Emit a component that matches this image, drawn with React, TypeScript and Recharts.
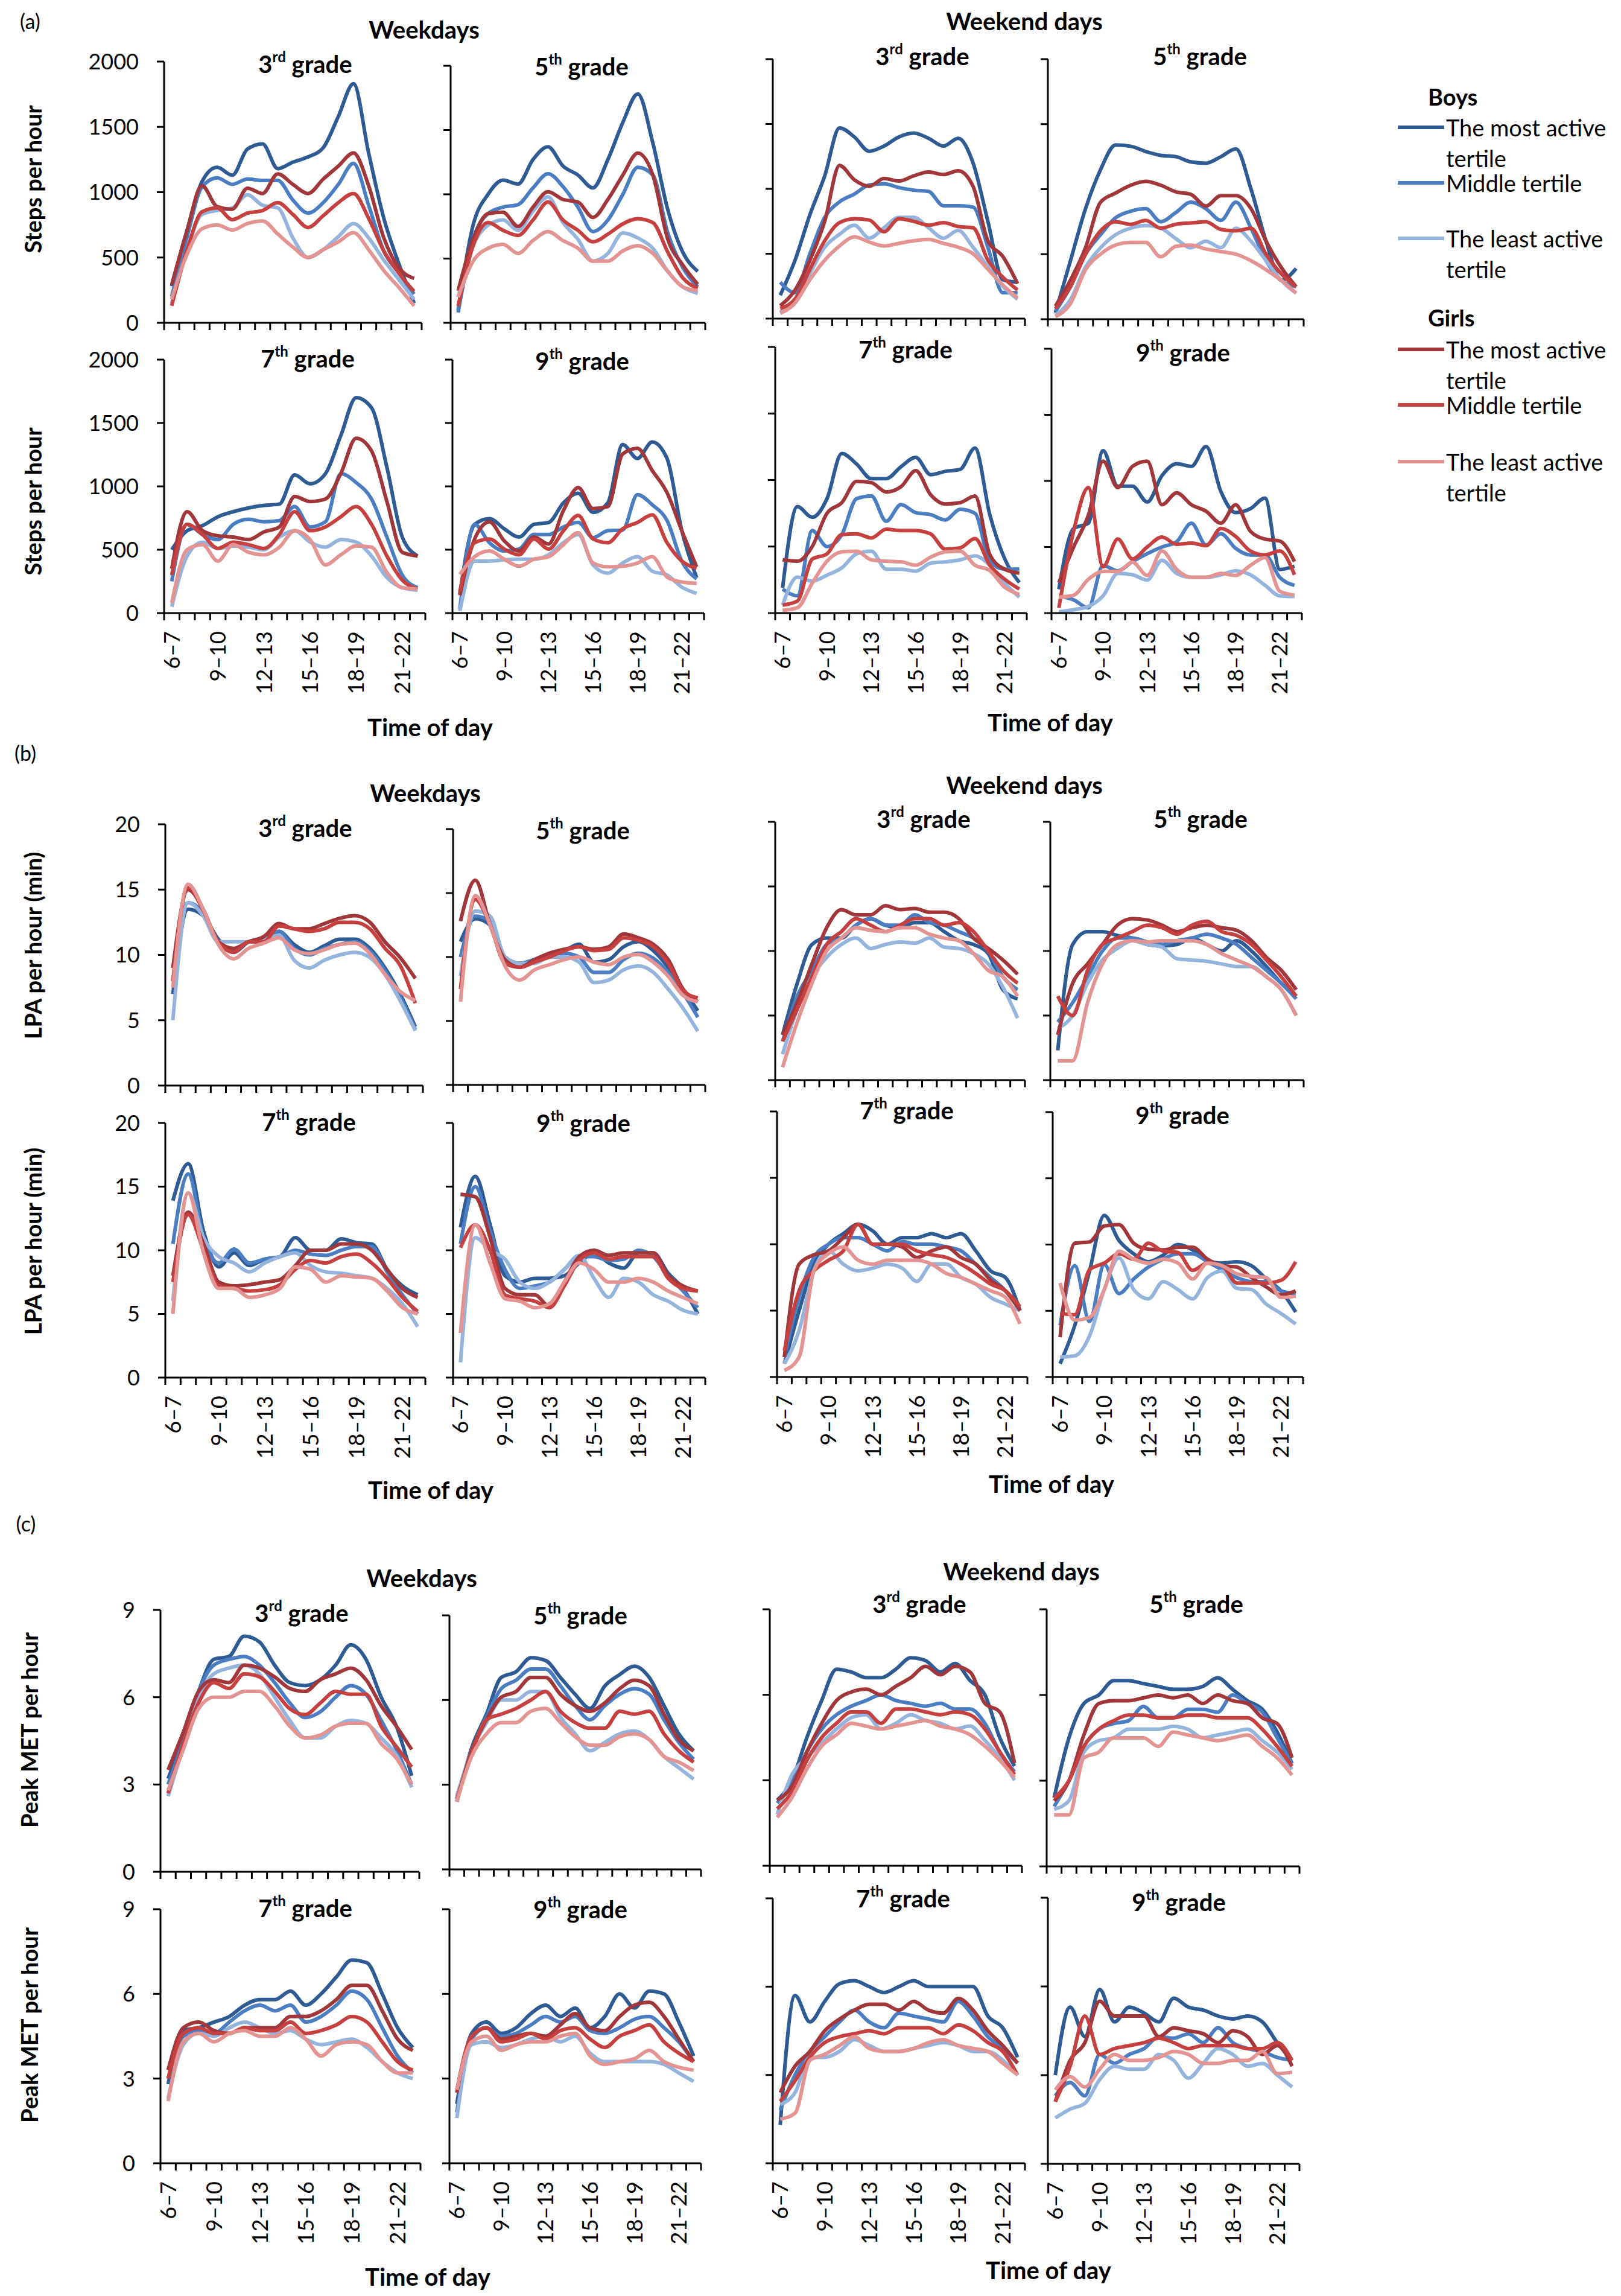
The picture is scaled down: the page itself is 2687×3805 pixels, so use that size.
import React from 'react';
import { LineChart, Line, XAxis, YAxis } from 'recharts';

// hour bins on the x axis
const HOURS = ['6–7', '7–8', '8–9', '9–10', '10–11', '11–12', '12–13', '13–14', '14–15', '15–16', '16–17', '17–18', '18–19', '19–20', '20–21', '21–22', '22–23'];

// order in every block: boys most, boys middle, boys least, girls most, girls middle, girls least
const COLORS = ['#2F5B94', '#4A7DC1', '#95B4DD', '#A1373A', '#C5403F', '#E39492'];
const TERTILES = ['The most active tertile', 'Middle tertile', 'The least active tertile'];

const STEP_TICKS = [0, 500, 1000, 1500, 2000];
const LPA_TICKS = [0, 5, 10, 15, 20];
const MET_TICKS = [0, 3, 6, 9];

// (a) steps per hour
const stepsWd3 = [
  [280, 700, 1080, 1190, 1130, 1330, 1370, 1180, 1230, 1270, 1340, 1580, 1830, 1300, 800, 450, 150],
  [200, 650, 1040, 1110, 1060, 1100, 1090, 1090, 940, 840, 920, 1060, 1220, 900, 550, 380, 220],
  [150, 550, 830, 860, 880, 980, 900, 880, 650, 500, 560, 660, 760, 650, 480, 330, 180],
  [290, 700, 1050, 890, 870, 1030, 990, 1140, 1060, 990, 1100, 1200, 1300, 1050, 650, 420, 340],
  [130, 550, 850, 880, 790, 840, 860, 920, 830, 730, 820, 920, 990, 800, 550, 380, 240],
  [180, 520, 720, 750, 710, 760, 780, 680, 580, 500, 560, 620, 690, 560, 400, 270, 130],
];
const stepsWd5 = [
  [100, 760, 1000, 1110, 1080, 1270, 1370, 1220, 1150, 1050, 1270, 1560, 1780, 1400, 880, 550, 400],
  [80, 650, 850, 900, 920, 1050, 1160, 1060, 900, 710, 800, 1000, 1210, 1150, 700, 430, 280],
  [200, 600, 760, 800, 720, 870, 980, 780, 650, 480, 540, 700, 660, 580, 400, 280, 230],
  [250, 650, 850, 860, 750, 900, 1020, 960, 940, 820, 960, 1150, 1320, 1150, 650, 450, 300],
  [130, 600, 780, 720, 680, 800, 940, 800, 720, 630, 690, 770, 810, 780, 550, 350, 270],
  [200, 480, 580, 610, 540, 640, 710, 640, 580, 480, 480, 560, 600, 540, 400, 280, 250],
];
const stepsWd7 = [
  [500, 650, 690, 760, 800, 830, 850, 860, 1090, 1020, 1100, 1400, 1700, 1620, 1150, 600, 450],
  [250, 700, 620, 580, 700, 740, 720, 730, 840, 680, 720, 1100, 1030, 900, 600, 300, 200],
  [50, 450, 560, 510, 530, 520, 500, 600, 650, 560, 520, 580, 560, 450, 280, 200, 180],
  [350, 800, 650, 610, 600, 580, 640, 680, 920, 880, 900, 1100, 1380, 1280, 880, 480, 450],
  [300, 700, 620, 510, 560, 540, 510, 620, 800, 650, 680, 760, 840, 700, 450, 260, 190],
  [80, 500, 540, 410, 540, 480, 460, 520, 650, 580, 380, 460, 530, 520, 320, 200, 190],
];
const stepsWd9 = [
  [150, 700, 745, 665, 600, 700, 715, 870, 945, 795, 870, 1330, 1220, 1350, 1220, 650, 280],
  [30, 700, 555, 490, 505, 620, 620, 680, 715, 595, 650, 655, 935, 855, 730, 410, 270],
  [15, 410, 410, 420, 425, 425, 460, 555, 620, 380, 315, 395, 445, 330, 300, 205, 155],
  [140, 585, 720, 570, 490, 600, 545, 810, 990, 825, 840, 1255, 1300, 1125, 950, 650, 365],
  [170, 555, 585, 505, 460, 585, 505, 650, 770, 585, 555, 665, 715, 775, 555, 410, 355],
  [305, 445, 490, 425, 370, 425, 445, 540, 635, 395, 365, 370, 395, 445, 285, 245, 235],
];
const stepsWe3 = [
  [180, 450, 800, 1100, 1470, 1400, 1290, 1330, 1400, 1430, 1390, 1330, 1390, 1200, 750, 300, 280],
  [280, 200, 500, 780, 900, 960, 1030, 1040, 1010, 990, 980, 870, 870, 860, 550, 200, 200],
  [50, 150, 350, 550, 650, 720, 620, 700, 780, 780, 700, 620, 680, 550, 400, 250, 150],
  [100, 220, 450, 750, 1180, 1070, 1020, 1080, 1060, 1100, 1130, 1110, 1140, 1020, 600, 480, 270],
  [80, 150, 380, 600, 740, 770, 760, 670, 770, 750, 720, 740, 710, 700, 450, 320, 220],
  [40, 120, 300, 450, 560, 630, 590, 560, 580, 600, 610, 580, 550, 500, 380, 260, 160],
];
const stepsWe5 = [
  [50, 450, 850, 1150, 1340, 1330, 1290, 1260, 1250, 1210, 1200, 1250, 1310, 1000, 600, 300, 390],
  [60, 250, 500, 650, 780, 830, 850, 750, 820, 900, 850, 760, 900, 700, 450, 300, 250],
  [30, 150, 400, 550, 650, 700, 720, 700, 620, 550, 600, 550, 700, 600, 450, 300, 200],
  [100, 300, 550, 900, 970, 1030, 1060, 1030, 980, 960, 870, 950, 950, 850, 600, 400, 250],
  [80, 250, 500, 680, 750, 730, 760, 700, 730, 740, 750, 690, 680, 700, 500, 350, 250],
  [20, 120, 380, 500, 570, 590, 590, 480, 560, 570, 540, 520, 500, 450, 380, 300, 200],
];
const stepsWe7 = [
  [190, 800, 720, 860, 1200, 1120, 1010, 1010, 1100, 1170, 1040, 1065, 1080, 1240, 740, 410, 230],
  [180, 130, 620, 500, 590, 860, 880, 690, 815, 755, 740, 700, 780, 750, 390, 330, 330],
  [60, 270, 240, 285, 340, 445, 465, 330, 330, 315, 375, 385, 400, 430, 360, 225, 120],
  [400, 390, 500, 750, 830, 990, 980, 910, 950, 1070, 890, 820, 830, 880, 440, 330, 300],
  [60, 90, 405, 445, 590, 595, 565, 630, 620, 620, 595, 480, 490, 560, 360, 255, 180],
  [20, 40, 225, 390, 460, 465, 400, 390, 385, 360, 420, 460, 465, 360, 320, 195, 140],
];
const stepsWe9 = [
  [180, 640, 680, 1230, 960, 960, 840, 1040, 1130, 1110, 1260, 920, 760, 790, 870, 330, 355],
  [130, 100, 40, 360, 320, 390, 450, 500, 540, 680, 515, 600, 490, 440, 440, 270, 210],
  [10, 25, 50, 130, 300, 290, 250, 400, 300, 270, 270, 290, 320, 290, 210, 130, 125],
  [230, 500, 740, 1150, 950, 1110, 1150, 820, 910, 820, 770, 680, 820, 620, 560, 545, 390],
  [40, 620, 950, 350, 560, 410, 500, 575, 520, 530, 510, 640, 580, 470, 440, 470, 290],
  [120, 135, 255, 315, 315, 385, 285, 470, 330, 270, 270, 300, 285, 360, 420, 165, 135],
];

// (b) LPA minutes per hour
const lpaWd3 = [
  [7.0, 13.5, 13.0, 11.2, 10.2, 11.0, 11.3, 11.8, 10.8, 10.2, 10.7, 11.2, 11.2, 10.5, 9.0, 7.0, 4.5],
  [8.0, 14.0, 13.2, 11.0, 10.4, 11.0, 11.0, 11.8, 10.5, 10.0, 10.5, 10.8, 11.0, 10.3, 8.8, 6.8, 4.3],
  [5.0, 14.0, 13.0, 11.0, 11.0, 11.0, 11.2, 11.5, 9.6, 9.0, 9.6, 10.0, 10.2, 9.8, 8.5, 6.5, 4.2],
  [9.0, 15.0, 13.5, 11.0, 10.5, 11.0, 11.4, 12.4, 12.0, 12.0, 12.4, 12.8, 13.0, 12.5, 11.0, 9.8, 8.2],
  [8.0, 15.2, 13.4, 11.0, 10.2, 11.0, 11.0, 12.2, 12.0, 11.8, 12.0, 12.5, 12.5, 12.0, 10.5, 9.2, 6.3],
  [7.5, 15.4, 13.5, 10.8, 9.7, 10.5, 10.9, 11.3, 10.4, 10.1, 10.4, 10.8, 10.9, 10.1, 8.5, 7.2, 6.5],
];
const lpaWd5 = [
  [11.2, 13.0, 12.5, 10.0, 9.5, 9.8, 10.2, 10.5, 11.0, 9.6, 9.8, 10.8, 11.2, 10.5, 9.2, 7.5, 5.8],
  [10.0, 13.2, 12.8, 10.0, 9.5, 9.8, 10.2, 10.3, 10.0, 8.8, 8.8, 9.8, 10.3, 9.9, 8.8, 7.2, 5.3],
  [8.5, 13.6, 13.2, 10.0, 9.5, 9.5, 10.0, 10.0, 9.6, 8.0, 8.2, 9.0, 9.3, 8.8, 7.5, 6.0, 4.2],
  [12.8, 16.0, 12.5, 9.8, 9.2, 9.8, 10.3, 10.6, 10.8, 10.6, 10.8, 11.8, 11.5, 11.0, 9.8, 7.5, 6.5],
  [7.5, 14.5, 12.5, 9.5, 9.2, 9.6, 10.0, 10.5, 10.8, 10.5, 10.6, 11.5, 11.3, 10.8, 9.5, 7.4, 6.8],
  [6.5, 14.8, 12.5, 9.3, 8.2, 9.0, 9.4, 9.8, 10.0, 9.6, 9.4, 10.0, 10.2, 9.6, 8.5, 7.0, 6.5],
];
const lpaWd7 = [
  [13.9, 16.8, 11.5, 8.7, 9.8, 8.8, 9.3, 9.5, 11.0, 10.0, 10.0, 10.9, 10.6, 10.5, 8.5, 7.2, 6.5],
  [10.5, 16.0, 11.0, 9.0, 10.1, 9.0, 9.3, 9.5, 10.0, 9.7, 9.6, 10.0, 10.3, 10.3, 8.3, 6.5, 5.0],
  [6.0, 14.5, 11.0, 9.5, 9.0, 8.3, 9.0, 9.5, 9.8, 8.8, 8.3, 8.2, 8.0, 7.8, 7.0, 5.8, 4.0],
  [8.0, 13.0, 10.5, 7.5, 7.2, 7.3, 7.5, 7.7, 8.8, 10.0, 10.0, 10.5, 10.5, 10.0, 8.5, 7.0, 6.3],
  [7.5, 12.8, 10.0, 7.2, 7.0, 6.8, 6.9, 7.3, 8.5, 9.2, 9.0, 9.5, 9.7, 9.0, 7.8, 6.3, 5.2],
  [5.0, 14.5, 9.8, 7.0, 7.0, 6.3, 6.5, 7.0, 8.7, 8.5, 7.5, 8.0, 7.9, 7.8, 6.8, 5.5, 5.0],
];
const lpaWd9 = [
  [11.8, 15.8, 12.0, 8.0, 7.5, 7.8, 7.8, 8.0, 9.0, 9.8, 9.0, 8.6, 9.8, 9.8, 8.2, 7.0, 5.0],
  [10.5, 15.0, 11.5, 8.5, 7.0, 7.2, 7.5, 8.5, 9.5, 9.5, 9.2, 9.3, 10.0, 9.5, 8.0, 6.8, 5.5],
  [1.2, 11.0, 10.0, 9.3, 7.5, 7.0, 7.5, 8.5, 9.6, 7.8, 6.3, 7.8, 7.5, 6.5, 6.0, 5.3, 5.0],
  [14.4, 14.2, 11.0, 7.0, 6.5, 6.5, 5.6, 7.5, 9.5, 10.0, 9.6, 9.8, 9.8, 9.8, 8.0, 7.2, 6.8],
  [10.2, 12.0, 10.0, 6.5, 6.2, 6.0, 5.5, 7.2, 9.2, 9.8, 9.3, 9.5, 9.5, 9.5, 7.8, 7.0, 6.8],
  [3.5, 12.0, 9.0, 6.2, 6.0, 5.5, 5.8, 7.5, 9.0, 8.5, 7.5, 7.5, 7.8, 7.5, 6.8, 6.3, 5.8],
];
const lpaWe3 = [
  [3.5, 7.5, 10.5, 11.0, 11.0, 12.0, 12.5, 12.0, 11.8, 12.2, 12.2, 11.5, 10.8, 10.5, 9.8, 7.0, 6.3],
  [3.0, 6.5, 8.5, 10.5, 11.0, 12.0, 12.5, 12.0, 12.0, 12.8, 12.2, 12.0, 11.5, 11.0, 10.0, 8.0, 7.0],
  [2.0, 5.5, 8.0, 9.5, 10.5, 11.0, 10.2, 10.5, 10.7, 10.6, 11.0, 10.3, 10.2, 9.8, 9.0, 7.2, 4.8],
  [3.5, 6.0, 9.0, 11.8, 13.2, 12.8, 12.8, 13.5, 13.2, 13.3, 13.0, 13.0, 12.5, 11.0, 10.2, 9.3, 8.2],
  [3.0, 5.5, 8.0, 10.5, 11.5, 12.5, 12.0, 11.5, 12.0, 12.5, 12.5, 12.0, 12.2, 11.5, 10.0, 8.5, 7.5],
  [1.0, 4.5, 7.5, 10.0, 11.0, 11.8, 11.6, 11.5, 11.8, 11.8, 11.3, 11.0, 10.8, 9.8, 8.5, 8.0, 6.5],
];
const lpaWe5 = [
  [2.3, 10.5, 11.5, 11.5, 11.2, 11.0, 10.5, 10.4, 10.5, 11.0, 10.5, 10.0, 10.8, 10.0, 8.8, 7.5, 6.5],
  [4.5, 6.0, 8.0, 10.0, 11.0, 11.0, 10.7, 10.5, 10.8, 11.0, 11.3, 11.0, 10.5, 9.5, 8.5, 7.5, 6.3],
  [4.0, 5.0, 7.5, 9.3, 10.2, 10.8, 10.5, 10.3, 9.4, 9.3, 9.2, 9.0, 8.8, 8.8, 8.0, 7.0, 5.0],
  [3.5, 7.5, 9.0, 10.5, 12.0, 12.5, 12.4, 12.0, 11.5, 11.8, 12.0, 11.8, 11.6, 10.8, 9.5, 8.5, 7.0],
  [6.5, 5.0, 8.5, 10.5, 11.0, 11.5, 12.0, 11.8, 11.3, 12.0, 12.3, 11.5, 11.2, 10.5, 9.3, 8.0, 6.5],
  [1.5, 1.5, 6.0, 9.0, 10.5, 10.8, 10.7, 10.8, 10.8, 10.8, 10.5, 9.8, 9.3, 8.8, 8.0, 7.0, 5.0],
];
const lpaWe7 = [
  [1.0, 5.0, 8.5, 10.0, 10.8, 11.5, 11.0, 10.0, 10.5, 10.5, 10.8, 10.5, 10.8, 9.5, 8.0, 7.5, 5.0],
  [1.5, 6.0, 9.0, 10.0, 10.5, 10.5, 10.0, 9.5, 10.2, 10.0, 10.0, 9.8, 9.5, 8.5, 7.5, 6.5, 5.0],
  [1.0, 3.5, 8.0, 9.5, 8.5, 8.0, 8.2, 8.5, 8.2, 7.2, 8.5, 8.5, 7.5, 7.0, 6.0, 5.5, 5.0],
  [1.5, 8.5, 9.2, 9.5, 10.5, 11.5, 10.0, 10.0, 9.8, 9.0, 9.5, 9.8, 9.0, 8.5, 7.3, 6.5, 5.0],
  [2.0, 6.5, 8.0, 8.8, 9.5, 11.5, 10.0, 10.0, 10.0, 9.5, 9.2, 9.0, 8.5, 7.8, 7.0, 6.5, 5.3],
  [0.5, 1.5, 8.0, 9.3, 9.8, 8.8, 8.5, 8.8, 8.8, 8.8, 8.5, 7.8, 7.5, 7.0, 6.5, 6.0, 4.0],
];
const lpaWe9 = [
  [1.0, 3.9, 8.0, 12.2, 10.3, 9.3, 8.7, 9.2, 10.0, 9.6, 8.8, 8.6, 8.7, 8.4, 7.4, 6.5, 4.9],
  [3.9, 8.4, 4.2, 8.5, 6.3, 7.4, 8.3, 8.9, 9.3, 9.3, 8.7, 8.1, 7.5, 7.2, 7.2, 6.5, 6.3],
  [1.5, 1.6, 3.1, 6.6, 9.0, 6.6, 5.9, 7.2, 6.6, 5.9, 7.5, 8.0, 6.7, 6.6, 5.5, 4.8, 4.0],
  [3.0, 10.1, 10.2, 11.4, 11.5, 10.1, 9.65, 9.6, 9.8, 9.8, 8.9, 8.4, 8.3, 7.5, 6.8, 6.2, 6.5],
  [4.8, 4.7, 8.1, 8.6, 9.3, 8.9, 10.1, 9.5, 9.4, 8.05, 8.6, 8.4, 7.1, 7.1, 7.1, 7.3, 8.7],
  [7.1, 4.3, 4.5, 6.6, 9.5, 8.9, 8.6, 8.9, 8.6, 7.4, 8.6, 8.4, 7.8, 7.6, 7.5, 6.0, 6.1],
];

// (c) peak MET per hour
const metWd3 = [
  [3.2, 4.6, 6.2, 7.3, 7.4, 8.1, 7.9, 7.1, 6.5, 6.4, 6.6, 7.1, 7.8, 7.3, 6.0, 5.0, 3.3],
  [3.0, 4.5, 6.2, 7.1, 7.3, 7.4, 7.1, 6.5, 5.8, 5.3, 5.5, 6.0, 6.4, 6.1, 5.2, 4.2, 3.0],
  [2.6, 4.3, 6.0, 6.8, 7.0, 7.1, 6.8, 6.0, 5.2, 4.6, 4.6, 5.0, 5.2, 5.1, 4.6, 4.0, 2.9],
  [3.5, 4.8, 6.2, 6.6, 6.5, 7.1, 7.0, 6.7, 6.3, 6.2, 6.6, 6.8, 7.0, 6.6, 5.7, 5.0, 4.2],
  [2.7, 4.4, 5.8, 6.5, 6.3, 6.8, 6.7, 6.2, 5.6, 5.4, 5.8, 6.2, 6.1, 6.1, 5.0, 4.3, 3.6],
  [2.8, 4.2, 5.6, 6.0, 6.0, 6.2, 6.2, 5.7, 5.0, 4.6, 4.7, 5.0, 5.1, 5.1, 4.4, 3.9, 3.0],
];
const metWd5 = [
  [2.4, 4.3, 5.5, 6.8, 7.0, 7.5, 7.4, 6.8, 6.2, 5.7, 6.5, 6.9, 7.2, 6.8, 5.8, 4.8, 4.2],
  [2.5, 4.2, 5.4, 6.4, 6.7, 7.1, 7.1, 6.5, 5.8, 5.3, 5.8, 6.2, 6.4, 6.2, 5.3, 4.5, 3.9],
  [2.6, 4.2, 5.2, 6.0, 6.0, 6.3, 6.3, 5.4, 4.8, 4.2, 4.5, 4.8, 4.9, 4.6, 4.0, 3.6, 3.2],
  [2.4, 4.2, 5.3, 6.1, 6.3, 6.8, 6.8, 6.2, 5.8, 5.6, 5.9, 6.4, 6.7, 6.5, 5.5, 4.6, 4.2],
  [2.5, 4.1, 5.3, 5.5, 5.7, 6.0, 6.3, 5.6, 5.2, 5.0, 5.0, 5.6, 5.5, 5.6, 4.8, 4.2, 3.8],
  [2.4, 4.0, 4.8, 5.2, 5.2, 5.6, 5.7, 5.2, 4.7, 4.4, 4.4, 4.7, 4.8, 4.6, 4.0, 3.8, 3.5],
];
const metWd7 = [
  [2.8, 4.7, 4.8, 5.0, 5.2, 5.6, 5.8, 5.8, 6.1, 5.6, 6.0, 6.6, 7.2, 7.1, 6.0, 4.8, 4.1],
  [3.0, 4.5, 4.7, 4.6, 5.0, 5.4, 5.6, 5.4, 5.6, 5.0, 5.2, 5.6, 6.1, 5.8, 4.8, 3.8, 3.2],
  [2.3, 4.2, 4.6, 4.5, 4.8, 5.0, 4.8, 4.6, 4.7, 4.4, 4.2, 4.3, 4.4, 4.1, 3.6, 3.2, 3.0],
  [3.3, 4.8, 5.0, 4.7, 4.6, 4.8, 4.8, 4.8, 5.2, 5.2, 5.4, 5.8, 6.3, 6.3, 5.4, 4.4, 4.0],
  [3.0, 4.6, 4.8, 4.6, 4.6, 4.8, 4.7, 4.7, 5.0, 4.6, 4.7, 4.9, 5.2, 5.0, 4.3, 3.6, 3.3],
  [2.2, 4.3, 4.6, 4.3, 4.6, 4.7, 4.5, 4.5, 4.8, 4.4, 3.8, 4.2, 4.3, 4.2, 3.6, 3.2, 3.2],
];
const metWd9 = [
  [2.1, 4.6, 5.0, 4.6, 4.8, 5.3, 5.6, 5.2, 5.5, 4.8, 5.2, 6.0, 5.5, 6.1, 6.0, 5.0, 3.8],
  [1.8, 4.4, 4.8, 4.5, 4.6, 4.9, 5.2, 5.0, 5.2, 4.7, 4.6, 4.8, 5.1, 5.2, 4.8, 4.3, 3.6],
  [1.6, 4.2, 4.3, 4.1, 4.2, 4.4, 4.5, 4.3, 4.5, 3.9, 3.6, 3.6, 3.6, 3.6, 3.5, 3.2, 2.9],
  [2.5, 4.5, 4.8, 4.4, 4.5, 4.6, 4.5, 4.9, 5.3, 4.8, 4.7, 5.2, 5.6, 5.7, 5.2, 4.4, 3.6],
  [2.6, 4.5, 4.8, 4.3, 4.4, 4.6, 4.4, 4.7, 4.8, 4.4, 4.1, 4.5, 4.7, 4.9, 4.3, 3.9, 3.6],
  [2.6, 4.3, 4.5, 4.0, 4.2, 4.3, 4.3, 4.5, 4.6, 3.8, 3.5, 3.6, 3.7, 4.0, 3.6, 3.4, 3.3],
];
const metWe3 = [
  [2.3, 3.0, 4.5, 5.8, 6.9, 6.8, 6.6, 6.6, 6.9, 7.3, 7.2, 6.8, 7.1, 6.5, 6.0, 4.5, 3.5],
  [2.2, 2.9, 4.0, 4.8, 5.3, 5.6, 5.8, 6.0, 5.8, 5.7, 5.6, 5.7, 5.5, 5.5, 5.0, 4.0, 3.3],
  [1.8, 3.2, 3.8, 4.3, 4.8, 5.2, 5.3, 4.8, 5.0, 5.3, 5.1, 5.0, 4.8, 4.9, 4.4, 3.8, 3.0],
  [2.3, 2.8, 4.0, 5.0, 5.8, 6.1, 6.2, 6.0, 6.3, 6.6, 7.0, 6.7, 7.0, 6.8, 5.7, 5.4, 3.6],
  [2.0, 2.6, 3.7, 4.5, 5.0, 5.4, 5.4, 5.0, 5.5, 5.5, 5.4, 5.3, 5.4, 5.3, 4.8, 4.0, 3.2],
  [1.7, 2.4, 3.4, 4.2, 4.6, 5.0, 4.9, 4.8, 4.9, 5.0, 5.1, 4.9, 4.8, 4.6, 4.2, 3.7, 3.1],
];
const metWe5 = [
  [2.4, 4.5, 5.7, 6.0, 6.5, 6.5, 6.4, 6.3, 6.2, 6.2, 6.3, 6.6, 6.2, 5.8, 5.5, 4.7, 3.6],
  [2.1, 3.0, 4.2, 4.8, 5.0, 5.1, 5.6, 5.2, 5.2, 5.5, 5.5, 5.4, 6.0, 5.7, 5.4, 4.5, 3.6],
  [2.0, 2.3, 4.0, 4.4, 4.5, 4.8, 4.8, 4.8, 4.9, 4.8, 4.5, 4.6, 4.7, 4.8, 4.4, 4.0, 3.4],
  [2.3, 3.0, 4.6, 5.7, 5.8, 5.8, 5.9, 6.0, 5.9, 6.0, 5.7, 6.0, 5.8, 5.7, 5.2, 5.0, 3.8],
  [2.4, 3.0, 4.2, 4.8, 5.1, 5.3, 5.3, 5.2, 5.2, 5.3, 5.3, 5.2, 5.2, 5.2, 4.8, 4.2, 3.5],
  [1.8, 1.8, 3.8, 4.0, 4.5, 4.5, 4.5, 4.2, 4.7, 4.6, 4.5, 4.4, 4.5, 4.6, 4.2, 3.8, 3.2],
];
const metWe7 = [
  [1.3, 5.7, 4.8, 5.5, 6.1, 6.2, 6.0, 5.8, 6.0, 6.2, 6.0, 6.0, 6.0, 6.0, 5.0, 4.6, 3.6],
  [1.8, 3.0, 3.8, 4.3, 4.8, 5.2, 4.8, 4.6, 5.1, 5.0, 4.9, 4.8, 5.5, 5.0, 4.3, 3.9, 3.4],
  [2.0, 2.4, 3.6, 3.6, 3.8, 4.2, 4.0, 3.8, 3.8, 3.9, 4.0, 4.1, 4.0, 3.8, 3.8, 3.5, 3.0],
  [2.4, 3.3, 3.8, 4.5, 4.9, 5.2, 5.4, 5.4, 5.2, 5.5, 5.2, 5.1, 5.6, 5.2, 4.5, 4.0, 3.4],
  [2.1, 2.8, 3.6, 4.1, 4.3, 4.4, 4.5, 4.4, 4.6, 4.6, 4.6, 4.4, 4.7, 4.5, 4.1, 3.8, 3.0],
  [1.5, 1.7, 3.5, 3.7, 4.0, 4.3, 3.9, 3.8, 3.8, 3.9, 4.1, 4.2, 4.0, 3.9, 3.8, 3.4, 3.0],
];
const metWe9 = [
  [3.0, 5.3, 4.3, 5.9, 4.8, 5.3, 5.1, 4.8, 5.6, 5.3, 5.2, 5.0, 4.9, 5.0, 4.8, 4.1, 3.5],
  [2.3, 2.75, 2.3, 3.7, 3.4, 3.7, 3.9, 4.3, 4.25, 4.4, 4.1, 4.6, 4.1, 3.9, 3.8, 3.6, 3.5],
  [1.55, 1.85, 2.05, 2.85, 3.3, 3.2, 3.2, 3.7, 3.5, 2.9, 3.4, 3.9, 3.7, 3.3, 3.4, 3.0, 2.6],
  [2.1, 3.5, 4.1, 5.5, 5.0, 5.0, 5.0, 4.3, 4.6, 4.5, 4.4, 4.1, 4.5, 4.3, 3.7, 4.0, 3.3],
  [2.1, 3.3, 5.0, 3.7, 3.9, 4.0, 4.1, 4.25, 4.1, 3.9, 4.0, 4.0, 4.0, 3.9, 3.9, 4.1, 3.5],
  [2.5, 2.95, 2.6, 3.2, 3.7, 3.5, 3.5, 3.6, 3.8, 3.7, 3.4, 3.4, 3.5, 3.5, 3.8, 3.05, 3.1],
];

const FONT = 'Lato, "Open Sans", sans-serif';
const Y_W = 150;
const X_H = 160;
const M_T = 30;
const M_R = 20;

// tick marks sit between the hour bins, labels on every third bin
const X_TICKS = HOURS.flatMap((_, i) => [i - 0.5, i]).concat([HOURS.length - 0.5]);

type Rect = { l: number; t: number; r: number; b: number };

const XTick = (props: any) => {
  const { x, y, payload, show } = props;
  const v = payload.value as number;
  if (!Number.isInteger(v)) {
    return <line x1={x} x2={x} y1={y} y2={y + 12} stroke="#000" strokeWidth={3} />;
  }
  if (!show || v % 3 !== 0) return <g />;
  const ty = y + 30;
  return (
    <text x={x} y={ty} dy="0.36em" textAnchor="end" transform={`rotate(-90 ${x} ${ty})`}
      fontSize={36} fontFamily={FONT} fill="#000">
      {HOURS[v]}
    </text>
  );
};

const YTick = (props: any) => {
  const { x, y, payload, show } = props;
  if (!show) return <g />;
  return (
    <text x={x} y={y} dy="0.36em" textAnchor="end" fontSize={36} fontFamily={FONT} fill="#000">
      {payload.value}
    </text>
  );
};

function Subplot({ rect, values, ticks, showY, showX }: { rect: Rect; values: number[][]; ticks: number[]; showY: boolean; showX: boolean }) {
  const rows = HOURS.map((hour, i) => {
    const row: Record<string, number | string> = { i, hour };
    values.forEach((s, k) => { row[`s${k}`] = s[i]; });
    return row;
  });
  const w = rect.r - rect.l;
  const h = rect.b - rect.t;
  return (
    <div style={{ position: 'absolute', left: rect.l - Y_W, top: rect.t - M_T }}>
      <LineChart width={w + Y_W + M_R} height={h + M_T + X_H} data={rows}
        margin={{ top: M_T, right: M_R, bottom: 0, left: 0 }}>
        <XAxis dataKey="i" type="number" domain={[-0.5, HOURS.length - 0.5]} ticks={X_TICKS}
          interval={0} height={X_H} tickLine={false} tickSize={0} tickMargin={0}
          tick={<XTick show={showX} />} axisLine={{ stroke: '#000', strokeWidth: 3 }} />
        <YAxis type="number" domain={[0, ticks[ticks.length - 1]]} ticks={ticks} interval={0}
          width={Y_W} tickSize={12} tickMargin={30} tick={<YTick show={showY} />}
          tickLine={{ stroke: '#000', strokeWidth: 3 }} axisLine={{ stroke: '#000', strokeWidth: 3 }} />
        {values.map((_, k) => (
          <Line key={k} dataKey={`s${k}`} type="monotone" stroke={COLORS[k]} strokeWidth={6}
            dot={false} activeDot={false} isAnimationActive={false} />
        ))}
      </LineChart>
    </div>
  );
}

const Label = ({ x, y, size = 40, bold = true, rotate = 0, children }: any) => (
  <div style={{
    position: 'absolute', left: x, top: y, transform: `translate(-50%, -50%) rotate(${rotate}deg)`,
    fontSize: size, fontWeight: bold ? 700 : 400, whiteSpace: 'nowrap', lineHeight: 1, color: '#000',
  }}>
    {children}
  </div>
);

const Grade = ({ x, y, n, suf }: any) => (
  <Label x={x} y={y}>
    {n}<span style={{ fontSize: '0.6em', position: 'relative', top: '-0.75em' }}>{suf}</span> grade
  </Label>
);

const GRADES = [['3', 'rd'], ['5', 'th'], ['7', 'th'], ['9', 'th']];

// layout of the three panels: plot rectangles and text anchors
const PANELS = [
  {
    tag: '(a)', tagPos: [50, 35], ticks: STEP_TICKS, yLabel: 'Steps per hour', yLabelPos: [54, 297, 831],
    groups: [
      {
        name: 'Weekdays', namePos: [703, 49], timePos: [713, 1205],
        plots: [
          { rect: { l: 272, t: 102, r: 699, b: 535 }, values: stepsWd3, gp: [506, 106] },
          { rect: { l: 747, t: 109, r: 1169, b: 535 }, values: stepsWd5, gp: [964, 110] },
          { rect: { l: 272, t: 596, r: 705, b: 1016 }, values: stepsWd7, gp: [510, 594] },
          { rect: { l: 750, t: 596, r: 1167, b: 1016 }, values: stepsWd9, gp: [965, 598] },
        ],
      },
      {
        name: 'Weekend days', namePos: [1698, 35], timePos: [1741, 1197],
        plots: [
          { rect: { l: 1281, t: 98, r: 1699, b: 528 }, values: stepsWe3, gp: [1529, 93] },
          { rect: { l: 1737, t: 98, r: 2161, b: 529 }, values: stepsWe5, gp: [1989, 93] },
          { rect: { l: 1285, t: 575, r: 1702, b: 1016 }, values: stepsWe7, gp: [1501, 579] },
          { rect: { l: 1743, t: 578, r: 2158, b: 1016 }, values: stepsWe9, gp: [1961, 584] },
        ],
      },
    ],
  },
  {
    tag: '(b)', tagPos: [42, 1248], ticks: LPA_TICKS, yLabel: 'LPA per hour (min)', yLabelPos: [54, 1567, 2057],
    groups: [
      {
        name: 'Weekdays', namePos: [705, 1314], timePos: [714, 2469],
        plots: [
          { rect: { l: 274, t: 1366, r: 701, b: 1799 }, values: lpaWd3, gp: [506, 1372] },
          { rect: { l: 751, t: 1374, r: 1169, b: 1798 }, values: lpaWd5, gp: [966, 1376] },
          { rect: { l: 274, t: 1861, r: 705, b: 2283 }, values: lpaWd7, gp: [512, 1859] },
          { rect: { l: 751, t: 1861, r: 1169, b: 2283 }, values: lpaWd9, gp: [967, 1861] },
        ],
      },
      {
        name: 'Weekend days', namePos: [1698, 1301], timePos: [1743, 2459],
        plots: [
          { rect: { l: 1285, t: 1362, r: 1699, b: 1790 }, values: lpaWe3, gp: [1531, 1357] },
          { rect: { l: 1741, t: 1362, r: 2161, b: 1790 }, values: lpaWe5, gp: [1990, 1357] },
          { rect: { l: 1288, t: 1842, r: 1703, b: 2282 }, values: lpaWe7, gp: [1503, 1840] },
          { rect: { l: 1745, t: 1843, r: 2160, b: 2282 }, values: lpaWe9, gp: [1960, 1848] },
        ],
      },
    ],
  },
  {
    tag: '(c)', tagPos: [43, 2525], ticks: MET_TICKS, yLabel: 'Peak MET per hour', yLabelPos: [48, 2867, 3356],
    groups: [
      {
        name: 'Weekdays', namePos: [699, 2615], timePos: [709, 3773],
        plots: [
          { rect: { l: 266, t: 2668, r: 695, b: 3102 }, values: metWd3, gp: [500, 2673] },
          { rect: { l: 745, t: 2677, r: 1162, b: 3098 }, values: metWd5, gp: [962, 2677] },
          { rect: { l: 266, t: 3164, r: 697, b: 3585 }, values: metWd7, gp: [506, 3162] },
          { rect: { l: 745, t: 3164, r: 1162, b: 3585 }, values: metWd9, gp: [962, 3164] },
        ],
      },
      {
        name: 'Weekend days', namePos: [1693, 2604], timePos: [1738, 3762],
        plots: [
          { rect: { l: 1276, t: 2667, r: 1694, b: 3092 }, values: metWe3, gp: [1524, 2658] },
          { rect: { l: 1735, t: 2667, r: 2154, b: 3093 }, values: metWe5, gp: [1983, 2658] },
          { rect: { l: 1281, t: 3146, r: 1699, b: 3585 }, values: metWe7, gp: [1497, 3146] },
          { rect: { l: 1737, t: 3145, r: 2154, b: 3586 }, values: metWe9, gp: [1954, 3152] },
        ],
      },
    ],
  },
];

const LEGEND_ROWS = [
  { head: 'Boys', y: 160, items: [[0, 211], [1, 303], [2, 395]] },
  { head: 'Girls', y: 526, items: [[3, 579], [4, 671], [5, 765]] },
];

function Legend() {
  const textStyle: React.CSSProperties = {
    position: 'absolute', left: 2397, fontSize: 38, lineHeight: 1, whiteSpace: 'nowrap', transform: 'translateY(-50%)',
  };
  return (
    <>
      {LEGEND_ROWS.map((g) => (
        <React.Fragment key={g.head}>
          <div style={{ ...textStyle, left: 2367, top: g.y, fontWeight: 700 }}>{g.head}</div>
          {g.items.map(([k, y]) => {
            const words = TERTILES[k % 3];
            const wrap = words.endsWith('active tertile');
            return (
              <React.Fragment key={k}>
                <div style={{ position: 'absolute', left: 2317, top: y - 3, width: 77, height: 6, background: COLORS[k] }} />
                <div style={{ ...textStyle, top: y }}>{wrap ? words.replace(' tertile', '') : words}</div>
                {wrap && <div style={{ ...textStyle, top: y + 51 }}>tertile</div>}
              </React.Fragment>
            );
          })}
        </React.Fragment>
      ))}
    </>
  );
}

export default function App() {
  return (
    <div style={{
      position: 'absolute', left: 0, top: 0, width: 2687, height: 3805, background: '#fff',
      fontFamily: FONT, overflow: 'hidden',
    }}>
      {PANELS.map((p) => (
        <React.Fragment key={p.tag}>
          <Label x={p.tagPos[0]} y={p.tagPos[1]} size={34} bold={false}>{p.tag}</Label>
          <Label x={p.yLabelPos[0]} y={p.yLabelPos[1]} size={38} rotate={-90}>{p.yLabel}</Label>
          <Label x={p.yLabelPos[0]} y={p.yLabelPos[2]} size={38} rotate={-90}>{p.yLabel}</Label>
          {p.groups.map((g, gi) => (
            <React.Fragment key={g.name}>
              <Label x={g.namePos[0]} y={g.namePos[1]}>{g.name}</Label>
              <Label x={g.timePos[0]} y={g.timePos[1]}>Time of day</Label>
              {g.plots.map((pl, k) => (
                <React.Fragment key={k}>
                  <Subplot rect={pl.rect} values={pl.values} ticks={p.ticks}
                    showY={gi === 0 && k % 2 === 0} showX={k >= 2} />
                  <Grade x={pl.gp[0]} y={pl.gp[1]} n={GRADES[k][0]} suf={GRADES[k][1]} />
                </React.Fragment>
              ))}
            </React.Fragment>
          ))}
        </React.Fragment>
      ))}
      <Legend />
    </div>
  );
}
